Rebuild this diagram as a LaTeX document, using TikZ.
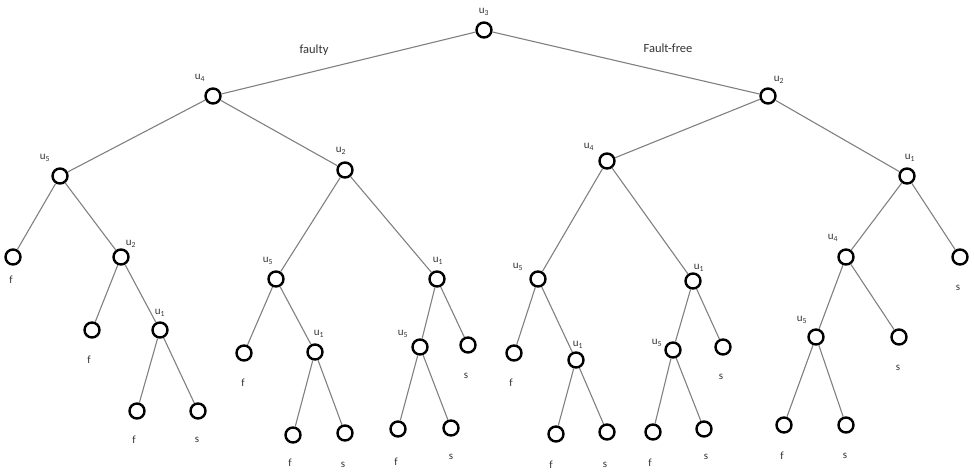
\documentclass[tikz,border=0pt]{standalone}
\usepackage{fontspec}
\setmainfont{Carlito}
\begin{document}
\begin{tikzpicture}[x=1pt,y=-1pt,
  vert/.style={circle,draw=black,line width=2.4pt,minimum size=15pt,inner sep=0pt,fill=white},
  lab/.style={font=\fontsize{11}{11}\selectfont,inner sep=0pt,text=black!80},
  elab/.style={font=\fontsize{12.5}{12.5}\selectfont,inner sep=0pt,text=black!80},
  edge/.style={draw=black!50,line width=1.1pt}]
\useasboundingbox (0,0) rectangle (974,472);
% vertices
\foreach \n/\x/\y in {r/484/30,a/213/96,b/768/96,aa/60/176,ab/345/170,ba/607/161,bb/907/176,
  aaa/13/257,aab/121/257,aba/276/279,abb/437/279,baa/538/279,bab/693/281,bba/846/257,bbb/960/257,
  aaba/92/330,aabb/160/330,abaa/244/353,abab/315/352,abba/420/347,abbb/468/345,baaa/514/353,
  baab/576/360,baba/673/350,babb/723/347,bbaa/816/337,bbab/899/337,
  aabba/137/411,aabbb/198/411,ababa/293/435,ababb/345/433,abbaa/398/429,abbab/451/428,
  baaba/556/434,baabb/607/432,babaa/653/432,babab/704/429,bbaaa/784/425,bbaab/846/425}
  \node[vert] (\n) at (\x,\y) {};
% edges
\foreach \p/\c in {r/a,r/b,a/aa,a/ab,b/ba,b/bb,aa/aaa,aa/aab,ab/aba,ab/abb,ba/baa,ba/bab,bb/bba,bb/bbb,
  aab/aaba,aab/aabb,aba/abaa,aba/abab,abb/abba,abb/abbb,baa/baaa,baa/baab,bab/baba,bab/babb,
  bba/bbaa,bba/bbab,aabb/aabba,aabb/aabbb,abab/ababa,abab/ababb,abba/abbaa,abba/abbab,
  baab/baaba,baab/baabb,baba/babaa,baba/babab,bbaa/bbaaa,bbaa/bbaab}
  \path[edge] (\p) -- (\c);
% edge labels
\node[elab] (lf) at (314,50) {faulty};
\node[elab] (lff) at (668,48) {Fault-free};
% vertex labels
\foreach \nm/\x/\y/\t in {lr/484/12/3,la/200/78/4,lb/779/80/2,laa/45/158/5,lab/341/151/2,lba/589/147/4,
  lbb/910/158/1,laab/131/244/2,laba/268/261/5,labb/438/261/1,lbaa/518/267/5,lbab/699/268/1,
  lbba/833/238/4,laabb/160/313/1,labab/319/334/1,labba/403/334/5,lbaab/578/345/1,lbaba/657/343/5,
  lbbaa/802/320/5}
  \node[lab] (\nm) at (\x,\y) {u\textsubscript{\t}};
% leaf labels
\foreach \nm/\x/\y/\t in {laaa/11/280/f,lbbb/958/288/s,laaba/89/360/f,labaa/243/383/f,labbb/466/376/s,
  lbaaa/511/383/f,lbabb/721/377/s,lbbab/898/368/s,laabba/134/440/f,laabbb/197/440/s,
  lababa/290/463/f,lababb/343/465/s,labbaa/396/462/f,labbab/451/457/s,lbaaba/551/465/f,
  lbaabb/605/465/s,lbabaa/650/463/f,lbabab/706/457/s,lbbaaa/782/456/f,lbbaab/845/456/s}
  \node[lab] (\nm) at (\x,\y) {\t};
\end{tikzpicture}
\end{document}
